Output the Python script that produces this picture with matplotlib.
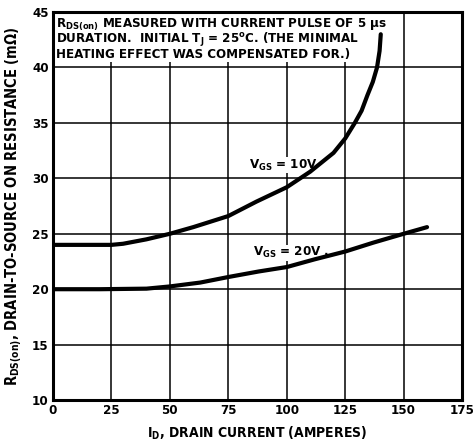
import numpy as np
import matplotlib
matplotlib.use("Agg")
import matplotlib.pyplot as plt

# data
id_10v = [0, 10, 20, 25, 30, 40, 50, 60, 75, 87, 100, 110, 120, 125, 129.1, 132, 134.5, 136.8, 138.6, 139.7, 140.2]
rds_10v = [24.0, 24.0, 24.0, 24.0, 24.1, 24.5, 25.0, 25.6, 26.6, 27.9, 29.2, 30.6, 32.3, 33.6, 35.0, 36.1, 37.5, 38.7, 40.0, 41.5, 43.0]

id_20v = [0, 20, 40, 50, 63, 75, 88, 100, 112, 125, 137, 150, 160]
rds_20v = [20.0, 20.0, 20.05, 20.25, 20.6, 21.1, 21.6, 22.0, 22.7, 23.4, 24.2, 25.0, 25.6]

xticks = [0, 25, 50, 75, 100, 125, 150, 175]
yticks = [10, 15, 20, 25, 30, 35, 40, 45]

plt.rcParams['font.family'] = ['DejaVu Sans']
plt.rcParams['font.stretch'] = 'condensed'
plt.rcParams['font.weight'] = 'bold'
plt.rcParams['mathtext.fontset'] = 'custom'
plt.rcParams['mathtext.rm'] = 'DejaVu Sans:weight=bold:stretch=condensed'
plt.rcParams['mathtext.it'] = 'DejaVu Sans:weight=bold:stretch=condensed'
plt.rcParams['mathtext.bf'] = 'DejaVu Sans:weight=bold:stretch=condensed'

fig = plt.figure(figsize=(4.73, 4.47), dpi=100)
ax = fig.add_axes([0.112, 0.105, 0.865, 0.868])

ax.plot(id_10v, rds_10v, color='black', lw=3, solid_capstyle='round',
        solid_joinstyle='round', zorder=5)
ax.plot(id_20v, rds_20v, color='black', lw=3, solid_capstyle='round',
        solid_joinstyle='round', zorder=5)

ax.set_xlim(0, 175)
ax.set_ylim(10, 45)
ax.set_xticks(xticks)
ax.set_yticks(yticks)
ax.grid(True, color='black', lw=1.1)
ax.tick_params(length=0, pad=3, labelsize=9.5)
for sp in ax.spines.values():
    sp.set_linewidth(2.2)
    sp.set_zorder(6)

ax.set_xlabel(r'I$_\mathrm{D}$, DRAIN CURRENT (AMPERES)', fontsize=10,
              fontweight='bold', labelpad=5)
ax.set_ylabel(r'R$_\mathrm{DS(on)}$, DRAIN-TO-SOURCE ON RESISTANCE (m$\Omega$)',
              fontsize=10.5, fontweight='bold', labelpad=5)

note = ('R$_\\mathrm{DS(on)}$ MEASURED WITH CURRENT PULSE OF 5 $\\mu$s\n'
        'DURATION.  INITIAL T$_\\mathrm{J}$ = 25$^\\mathrm{o}$C. (THE MINIMAL\n'
        'HEATING EFFECT WAS COMPENSATED FOR.)')
ax.text(1.5, 44.6, note, fontsize=9.5, va='top', ha='left',
        linespacing=0.88, zorder=4,
        bbox=dict(facecolor='white', edgecolor='none', pad=0.8))

ax.text(84, 31.2, r'V$_\mathrm{GS}$ = 10V', fontsize=9.5, va='center',
        zorder=4, bbox=dict(facecolor='white', edgecolor='none', pad=0.3))
ax.text(85.5, 23.3, r'V$_\mathrm{GS}$ = 20V .', fontsize=9.5, va='center',
        zorder=4, bbox=dict(facecolor='white', edgecolor='none', pad=0.3))

fig.savefig('out.png', dpi=100)
